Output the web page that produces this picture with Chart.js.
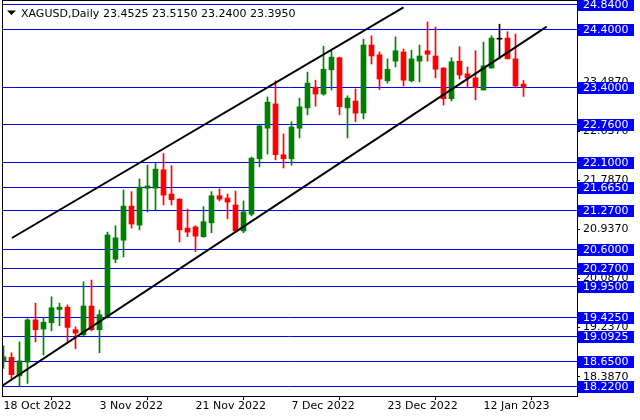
<!DOCTYPE html>
<html>
<head>
<meta charset="utf-8">
<script src="https://cdn.jsdelivr.net/npm/chart.js@4.4.1/dist/chart.umd.min.js"></script>
<style>
  html, body { margin: 0; padding: 0; background: #fff; }
</style>
</head>
<body>
<canvas id="chart" width="640" height="420"></canvas>
<script>
// XAGUSD daily candles
const dates = [
  '18 Oct 2022','19 Oct 2022','20 Oct 2022','21 Oct 2022','24 Oct 2022','25 Oct 2022','26 Oct 2022','27 Oct 2022','28 Oct 2022','31 Oct 2022',
  '1 Nov 2022','2 Nov 2022','3 Nov 2022','4 Nov 2022','7 Nov 2022','8 Nov 2022','9 Nov 2022','10 Nov 2022','11 Nov 2022','14 Nov 2022',
  '15 Nov 2022','16 Nov 2022','17 Nov 2022','18 Nov 2022','21 Nov 2022','22 Nov 2022','23 Nov 2022','24 Nov 2022','25 Nov 2022','28 Nov 2022',
  '29 Nov 2022','30 Nov 2022','1 Dec 2022','2 Dec 2022','5 Dec 2022','6 Dec 2022','7 Dec 2022','8 Dec 2022','9 Dec 2022','12 Dec 2022',
  '13 Dec 2022','14 Dec 2022','15 Dec 2022','16 Dec 2022','19 Dec 2022','20 Dec 2022','21 Dec 2022','22 Dec 2022','23 Dec 2022','27 Dec 2022',
  '28 Dec 2022','29 Dec 2022','30 Dec 2022','3 Jan 2023','4 Jan 2023','5 Jan 2023','6 Jan 2023','9 Jan 2023','10 Jan 2023','11 Jan 2023',
  '12 Jan 2023','13 Jan 2023','16 Jan 2023','17 Jan 2023','18 Jan 2023','19 Jan 2023'
];
const opens = [
  18.65, 18.72, 18.40, 18.64, 19.37, 19.21, 19.32, 19.55, 19.59, 19.20,
  19.11, 19.61, 19.20, 19.43, 20.42, 20.75, 21.34, 21.01, 21.65, 21.65,
  21.97, 21.55, 21.46, 20.96, 20.98, 20.81, 21.05, 21.52, 21.48, 21.36,
  20.91, 21.20, 22.16, 22.69, 23.11, 22.23, 22.16, 22.69, 23.04, 23.40,
  23.28, 23.70, 23.91, 23.04, 23.16, 22.95, 24.13, 23.96, 23.51, 23.85,
  24.01, 23.51, 23.85, 24.03, 23.94, 23.73, 23.20, 23.85, 23.63, 23.56,
  23.35, 23.73, 24.23, 24.25, 23.89, 23.4525
];
const highs = [
  18.92, 18.80, 18.99, 19.39, 19.66, 19.41, 19.77, 19.66, 19.63, 19.25,
  20.03, 20.06, 19.54, 20.89, 21.00, 21.62, 21.59, 21.81, 22.05, 22.08,
  22.25, 22.04, 21.47, 21.29, 21.00, 21.33, 21.59, 21.64, 21.55, 21.60,
  21.43, 22.19, 22.75, 23.23, 23.51, 22.59, 22.80, 23.21, 23.66, 23.52,
  24.11, 24.03, 23.92, 23.25, 23.37, 24.23, 24.29, 24.01, 23.89, 24.27,
  24.06, 24.04, 24.13, 24.53, 24.44, 23.74, 23.91, 24.10, 23.75, 24.03,
  24.18, 24.29, 24.49, 24.36, 24.32, 23.515
];
const lows = [
  18.53, 18.35, 18.22, 18.27, 18.99, 18.76, 19.18, 19.27, 18.97, 18.87,
  19.10, 19.18, 18.80, 19.40, 20.36, 20.46, 20.96, 20.93, 21.24, 21.27,
  21.36, 21.36, 20.72, 20.81, 20.55, 20.80, 20.88, 21.43, 21.12, 20.88,
  20.88, 21.17, 22.02, 22.24, 22.14, 22.00, 22.05, 22.52, 22.92, 23.07,
  23.26, 23.35, 22.92, 22.52, 22.80, 22.85, 23.80, 23.36, 23.47, 23.75,
  23.42, 23.49, 23.49, 23.85, 23.56, 23.09, 23.16, 23.54, 23.39, 23.18,
  23.35, 23.73, 23.89, 23.89, 23.39, 23.24
];
const closes = [
  18.73, 18.42, 18.66, 19.37, 19.20, 19.33, 19.58, 19.59, 19.24, 19.14,
  19.61, 19.20, 19.46, 20.84, 20.79, 21.34, 21.03, 21.67, 21.69, 21.98,
  21.53, 21.45, 20.93, 20.89, 20.82, 21.07, 21.52, 21.46, 21.41, 20.91,
  21.24, 22.17, 22.73, 23.14, 22.23, 22.16, 22.71, 23.06, 23.47, 23.28,
  23.71, 23.92, 23.06, 23.21, 22.95, 24.13, 23.94, 23.54, 23.71, 24.03,
  23.52, 23.89, 23.94, 23.97, 23.71, 23.20, 23.84, 23.61, 23.56, 23.39,
  23.77, 24.25, 24.23, 23.89, 23.42, 23.395
];

// horizontal support / resistance levels
const levels = [24.84, 24.40, 23.40, 22.76, 22.10, 21.665, 21.27, 20.60, 20.27, 19.95, 19.425, 19.0925, 18.65, 18.22];
// price axis ticks
const priceTicks = [18.387, 19.237, 20.087, 20.937, 21.787, 22.637, 23.487, 24.337];
// date axis ticks (bar index)
const dateTicks = [0, 12, 24, 36, 48, 60];
// channel lines: [bar index, price]
const upperChannel = [[1.05, 20.788], [50.0, 24.783]];
const lowerChannel = [[-0.19, 18.225], [67.9, 24.447]];

const header = 'XAGUSD,Daily';
const headerPrices = '23.4525 23.5150 23.2400 23.3950';

const idx = opens.map((_, i) => i);
const candleColor = idx.map(i => closes[i] > opens[i] ? '#008000' : (closes[i] < opens[i] ? '#ff0000' : '#000000'));

Chart.defaults.font.family = 'DejaVu Sans';
Chart.defaults.font.size = 11;
Chart.defaults.color = '#000';

const overlay = {
  id: 'overlay',
  beforeDatasetsDraw(chart) {
    // levels sit behind the candles
    const { ctx, chartArea: a, scales: { y } } = chart;
    ctx.save();
    ctx.strokeStyle = '#0000ff';
    ctx.lineWidth = 1;
    levels.forEach(v => {
      const py = Math.round(y.getPixelForValue(v)) + 0.5;
      ctx.beginPath();
      ctx.moveTo(a.left, py);
      ctx.lineTo(a.right, py);
      ctx.stroke();
    });
    ctx.restore();
  },
  afterDraw(chart) {
    const { ctx, chartArea: a, scales: { y } } = chart;
    ctx.save();
    // frame
    ctx.strokeStyle = '#000';
    ctx.lineWidth = 1;
    ctx.strokeRect(a.left + 0.5, a.top + 0.5, a.right - a.left, a.bottom - a.top);

    // level tags on the price axis
    ctx.font = '11px "DejaVu Sans"';
    ctx.textBaseline = 'middle';
    ctx.textAlign = 'left';
    levels.forEach(v => {
      const py = Math.round(y.getPixelForValue(v));
      ctx.fillStyle = '#0000ff';
      ctx.fillRect(a.right + 1, py - 5, 56, 12);
      ctx.fillStyle = '#ffffff';
      ctx.fillText(v.toFixed(4), a.right + 6, py + 1);
    });

    // header
    ctx.fillStyle = '#000';
    ctx.beginPath();
    ctx.moveTo(7, 10.5);
    ctx.lineTo(16, 10.5);
    ctx.lineTo(11.5, 15);
    ctx.closePath();
    ctx.fill();
    ctx.textBaseline = 'alphabetic';
    ctx.fillText(header, 21, 17);
    ctx.fillText(headerPrices, 103, 17);
    ctx.restore();
  }
};

new Chart(document.getElementById('chart'), {
  data: {
    datasets: [
      {
        type: 'line',
        data: upperChannel.map(p => ({ x: p[0], y: p[1] })),
        borderColor: '#000',
        borderWidth: 2,
        pointRadius: 0
      },
      {
        type: 'line',
        data: lowerChannel.map(p => ({ x: p[0], y: p[1] })),
        borderColor: '#000',
        borderWidth: 2,
        pointRadius: 0
      },
      {
        type: 'bar',
        data: idx.map(i => ({ x: i, y: [opens[i], closes[i]] })),
        backgroundColor: candleColor,
        barThickness: 5,
        minBarLength: 1,
        grouped: false
      },
      {
        type: 'bar',
        data: idx.map(i => ({ x: i, y: [lows[i], highs[i]] })),
        backgroundColor: candleColor,
        barThickness: 1,
        grouped: false
      }
    ]
  },
  options: {
    responsive: false,
    animation: false,
    layout: { padding: { left: 2, top: 0, right: 0, bottom: 0 } },
    plugins: { legend: { display: false }, tooltip: { enabled: false } },
    scales: {
      x: {
        type: 'linear',
        min: -0.1875,
        max: 71.6875,
        offset: false,
        afterBuildTicks: s => { s.ticks = dateTicks.map(v => ({ value: v })); },
        afterFit: s => { s.height = 24; s.paddingLeft = 0; s.paddingRight = 0; },
        grid: { drawOnChartArea: false, tickLength: 4, color: '#000' },
        border: { color: '#000' },
        ticks: {
          align: 'start', maxRotation: 0, autoSkip: false, padding: 0,
          callback: v => dates[v]
        }
      },
      y: {
        position: 'right',
        min: 18.052,
        max: 24.909,
        afterBuildTicks: s => { s.ticks = priceTicks.map(v => ({ value: v })); },
        afterFit: s => { s.width = 63; s.paddingTop = 0; s.paddingBottom = 0; },
        grid: { drawOnChartArea: false, tickLength: 3, color: '#000' },
        border: { color: '#000' },
        ticks: { padding: 3, callback: v => v.toFixed(4) }
      }
    }
  },
  plugins: [overlay]
});
</script>
</body>
</html>
